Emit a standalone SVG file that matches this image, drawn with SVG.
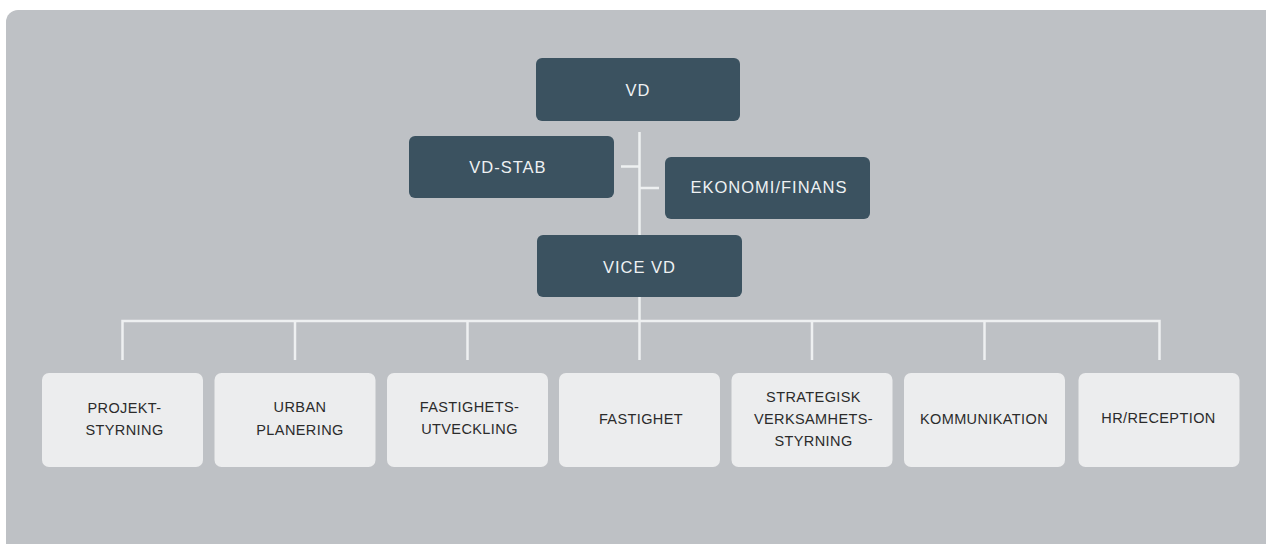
<svg xmlns="http://www.w3.org/2000/svg" width="1266" height="544" viewBox="0 0 1266 544">
<style>
.dark{fill:#3b5260}
.light{fill:#ecedee}
.tt{font-family:"Liberation Sans",Arial,sans-serif;font-size:16.5px;fill:#eef1f3;text-anchor:middle;letter-spacing:1px}
.bt{font-family:"Liberation Sans",Arial,sans-serif;font-size:14.5px;fill:#2b2b2b;text-anchor:middle;letter-spacing:0.4px}
.ln{stroke:#eef0f1;stroke-width:2.5;fill:none}
</style>
<rect x="0" y="0" width="1266" height="544" fill="#ffffff"/>
<rect x="6" y="10" width="1280" height="560" rx="12" fill="#bec1c5"/>
<g id="connectors">
<path class="ln" d="M639.5 132V321"/>
<path class="ln" d="M621 166.5H639.5"/>
<path class="ln" d="M639.5 188H659"/>
<path class="ln" d="M122.5 360V321H1159.5V360"/>
<path class="ln" d="M295 321V360M467.5 321V360M639.5 321V360M812 321V360M984.5 321V360"/>
</g>
<g id="vd"><rect class="dark" x="536" y="58" width="204" height="63" rx="6"/><text class="tt" x="638" y="96">VD</text></g>
<g id="vd-stab"><rect class="dark" x="409" y="136" width="205" height="62" rx="6"/><text class="tt" x="508" y="172.5">VD-STAB</text></g>
<g id="ekonomi"><rect class="dark" x="665" y="157" width="205" height="62" rx="6"/><text class="tt" x="769" y="192.5">EKONOMI/FINANS</text></g>
<g id="vice-vd"><rect class="dark" x="537" y="235" width="205" height="62" rx="6"/><text class="tt" x="639.5" y="272.5">VICE VD</text></g>
<g id="projektstyrning"><rect class="light" x="42" y="373" width="161" height="94" rx="7"/><text class="bt" x="124.5" y="412.5">PROJEKT-</text><text class="bt" x="124.5" y="434.5">STYRNING</text></g>
<g id="urban"><rect class="light" x="214.5" y="373" width="161" height="94" rx="7"/><text class="bt" x="300" y="412">URBAN</text><text class="bt" x="300" y="434.5">PLANERING</text></g>
<g id="fastighetsutveckling"><rect class="light" x="387" y="373" width="161" height="94" rx="7"/><text class="bt" x="469.5" y="411.5">FASTIGHETS-</text><text class="bt" x="469.5" y="433.5">UTVECKLING</text></g>
<g id="fastighet"><rect class="light" x="559" y="373" width="161" height="94" rx="7"/><text class="bt" x="641" y="423.5">FASTIGHET</text></g>
<g id="strategisk"><rect class="light" x="731.5" y="373" width="161" height="94" rx="7"/><text class="bt" x="813.5" y="401.5">STRATEGISK</text><text class="bt" x="813.5" y="424">VERKSAMHETS-</text><text class="bt" x="813.5" y="446">STYRNING</text></g>
<g id="kommunikation"><rect class="light" x="904" y="373" width="161" height="94" rx="7"/><text class="bt" x="984" y="424">KOMMUNIKATION</text></g>
<g id="hr"><rect class="light" x="1078.5" y="373" width="161" height="94" rx="7"/><text class="bt" x="1158.5" y="423">HR/RECEPTION</text></g>
</svg>
